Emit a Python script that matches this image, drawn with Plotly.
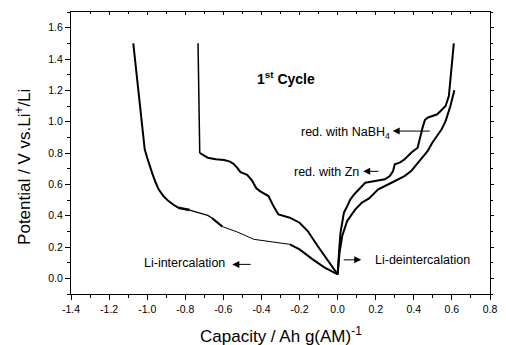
import plotly.graph_objects as go

# Discharge curve 1 (outer, Li-intercalation)
A_x = [-1.073, -1.055, -1.041, -1.028, -1.013, -1.000, -0.985, -0.972, -0.955,
       -0.940, -0.915, -0.888, -0.860, -0.837, -0.800, -0.777, -0.730, -0.682, -0.660,
       -0.639, -0.620, -0.605, -0.527, -0.440, -0.350, -0.251, -0.200, -0.131, -0.070, 0.000]
A_y = [1.50, 1.30, 1.14, 1.00, 0.823, 0.77, 0.71, 0.665, 0.61,
       0.568, 0.525, 0.493, 0.468, 0.451, 0.440, 0.436, 0.420, 0.402, 0.385,
       0.366, 0.345, 0.330, 0.296, 0.249, 0.235, 0.217, 0.185, 0.121, 0.070, 0.025]

# Discharge curve 2 (inner)
B_x = [-0.733, -0.730, -0.727, -0.724, -0.708, -0.682, -0.640, -0.596, -0.565, -0.544,
       -0.527, -0.510, -0.475, -0.450, -0.427, -0.406, -0.363, -0.337, -0.311, -0.280,
       -0.251, -0.200, -0.157, -0.105, -0.045, 0.000]
B_y = [1.50, 1.30, 1.00, 0.80, 0.79, 0.77, 0.76, 0.755, 0.745, 0.728,
       0.705, 0.678, 0.660, 0.625, 0.575, 0.555, 0.525, 0.461, 0.408, 0.398,
       0.387, 0.355, 0.302, 0.206, 0.100, 0.025]

# Charge curve 1 (upper, to 1.5 V)
C1_x = [0.000, 0.003, 0.007, 0.015, 0.033, 0.050, 0.067, 0.090, 0.110, 0.130,
        0.145, 0.196, 0.248, 0.274, 0.291, 0.300, 0.325, 0.351, 0.386, 0.420,
        0.434, 0.446, 0.458, 0.472, 0.523, 0.567, 0.584, 0.592, 0.601, 0.610]
C1_y = [0.025, 0.100, 0.164, 0.290, 0.419, 0.460, 0.504, 0.540, 0.568, 0.595,
        0.610, 0.621, 0.632, 0.653, 0.685, 0.728, 0.738, 0.759, 0.802, 0.834,
        0.908, 0.962, 1.010, 1.025, 1.047, 1.100, 1.163, 1.270, 1.376, 1.500]

# Charge curve 2 (lower, to 1.2 V)
C2_x = [0.000, 0.005, 0.010, 0.024, 0.050, 0.093, 0.128, 0.165, 0.213, 0.283,
        0.351, 0.386, 0.429, 0.472, 0.497, 0.523, 0.546, 0.567, 0.592, 0.613]
C2_y = [0.025, 0.100, 0.164, 0.270, 0.366, 0.440, 0.483, 0.510, 0.568, 0.610,
        0.653, 0.685, 0.749, 0.812, 0.866, 0.908, 0.951, 1.004, 1.100, 1.200]

x_tickvals = [-1.4, -1.2, -1.0, -0.8, -0.6, -0.4, -0.2, 0.0, 0.2, 0.4, 0.6, 0.8]
x_ticktext = ["-1.4", "-1.2", "-1.0", "-0.8", "-0.6", "-0.4", "-0.2", "0.0", "0.2", "0.4", "0.6", "0.8"]
y_tickvals = [0.0, 0.2, 0.4, 0.6, 0.8, 1.0, 1.2, 1.4, 1.6]
y_ticktext = ["0.0", "0.2", "0.4", "0.6", "0.8", "1.0", "1.2", "1.4", "1.6"]

FONT = "Liberation Sans, Arial, sans-serif"

fig = go.Figure()


def seg(xs, ys, i0, i1, w):
    fig.add_trace(go.Scatter(x=xs[i0:i1 + 1], y=ys[i0:i1 + 1], mode="lines",
                             line=dict(color="black", width=w),
                             showlegend=False, hoverinfo="skip"))


seg(A_x, A_y, 0, 13, 2)
seg(A_x, A_y, 13, 15, 2.6)
seg(A_x, A_y, 15, 18, 1.3)
seg(A_x, A_y, 18, 21, 2.2)
seg(A_x, A_y, 21, 25, 1)
seg(A_x, A_y, 25, len(A_x) - 1, 2)
seg(B_x, B_y, 0, 3, 1.5)
seg(B_x, B_y, 3, len(B_x) - 1, 2)
seg(C1_x, C1_y, 0, len(C1_x) - 1, 2)
seg(C2_x, C2_y, 0, len(C2_x) - 1, 2)

# dummy traces for mirrored axes
fig.add_trace(go.Scatter(x=[None], y=[None], xaxis="x2", yaxis="y", showlegend=False))
fig.add_trace(go.Scatter(x=[None], y=[None], xaxis="x", yaxis="y2", showlegend=False))

ax_common = dict(showgrid=False, zeroline=False, linecolor="black", linewidth=1,
                 tickcolor="black", ticklen=5, tickwidth=1,
                 tickfont=dict(family=FONT, size=10.5, color="black"))

fig.update_layout(
    width=506, height=345,
    margin=dict(l=71, r=9, t=12, b=51),
    paper_bgcolor="white", plot_bgcolor="white",
    showlegend=False,
    xaxis=dict(range=[-1.4, 0.8], tickvals=x_tickvals, ticktext=x_ticktext,
               ticks="outside", showline=True,
               minor=dict(ticks="outside", ticklen=3, dtick=0.1, tick0=-1.4, tickcolor="black"),
               **ax_common),
    yaxis=dict(range=[-0.1, 1.7], tickvals=y_tickvals, ticktext=y_ticktext,
               ticks="outside", showline=True,
               minor=dict(ticks="outside", ticklen=3, dtick=0.1, tick0=0, tickcolor="black"),
               **ax_common),
    xaxis2=dict(range=[-1.4, 0.8], overlaying="x", side="top", anchor="y",
                tickvals=x_tickvals, showticklabels=False, ticks="inside", showline=True,
                minor=dict(ticks="inside", ticklen=2, dtick=0.1, tick0=-1.4, tickcolor="black"),
                showgrid=False, zeroline=False, linecolor="black", linewidth=1,
                tickcolor="black", ticklen=3),
    yaxis2=dict(range=[-0.1, 1.7], overlaying="y", side="right", anchor="x",
                tickvals=y_tickvals, showticklabels=False, ticks="outside", showline=True,
                minor=dict(ticks="outside", ticklen=2, dtick=0.1, tick0=0, tickcolor="black"),
                showgrid=False, zeroline=False, linecolor="black", linewidth=1,
                tickcolor="black", ticklen=3),
)

ann_font = dict(family=FONT, size=12.5, color="black")

annotations = [
    dict(x=-0.269, y=1.276, xref="x", yref="y", text="<b>1<sup>st</sup> Cycle</b>",
         showarrow=False, font=dict(family=FONT, size=14, color="black")),
    dict(x=0.285, y=0.925, xref="x", yref="y", text="red. with NaBH<sub>4</sub>",
         xanchor="right", yanchor="middle", showarrow=False, font=ann_font),
    dict(x=0.124, y=0.676, xref="x", yref="y", text="red. with Zn",
         xanchor="right", yanchor="middle", showarrow=False, font=ann_font),
    dict(x=-0.58, y=0.096, xref="x", yref="y", text="Li-intercalation",
         xanchor="right", yanchor="middle", showarrow=False, font=ann_font),
    dict(x=0.185, y=0.115, xref="x", yref="y", text="Li-deintercalation",
         xanchor="left", yanchor="middle", showarrow=False, font=ann_font),
    # arrows
    dict(x=0.289, y=0.94, ax=0.491, ay=0.94, xref="x", yref="y", axref="x", ayref="y",
         text="", showarrow=True, arrowhead=2, arrowsize=1.4, arrowwidth=1, arrowcolor="black"),
    dict(x=0.134, y=0.683, ax=0.222, ay=0.683, xref="x", yref="y", axref="x", ayref="y",
         text="", showarrow=True, arrowhead=2, arrowsize=1.4, arrowwidth=1, arrowcolor="black"),
    dict(x=-0.553, y=0.089, ax=-0.449, ay=0.089, xref="x", yref="y", axref="x", ayref="y",
         text="", showarrow=True, arrowhead=2, arrowsize=1.4, arrowwidth=1, arrowcolor="black"),
    dict(x=0.124, y=0.118, ax=0.024, ay=0.118, xref="x", yref="y", axref="x", ayref="y",
         text="", showarrow=True, arrowhead=2, arrowsize=1.4, arrowwidth=1, arrowcolor="black"),
    # axis titles
    dict(x=0.5, y=-0.145, xref="paper", yref="paper", xanchor="center", yanchor="middle",
         text="Capacity / Ah g(AM)<sup>-1</sup>", showarrow=False,
         font=dict(family=FONT, size=17, color="black")),
    dict(x=-0.115, y=0.45, xref="paper", yref="paper", xanchor="center", yanchor="middle",
         text="Potential / V vs.Li<sup>+</sup>/Li", textangle=-90, showarrow=False,
         font=dict(family=FONT, size=17, color="black")),
]
fig.update_layout(annotations=annotations)

fig.write_html("out.html")
